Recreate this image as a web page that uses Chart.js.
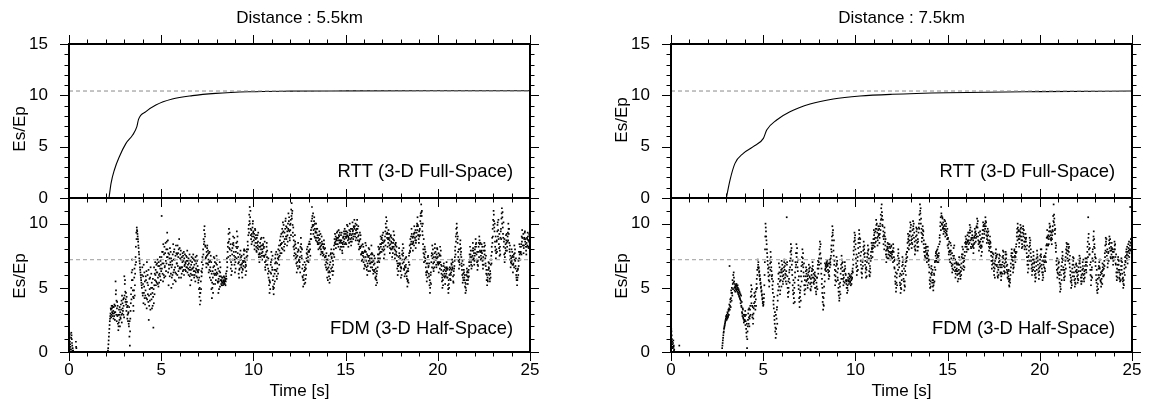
<!DOCTYPE html>
<html>
<head>
<meta charset="utf-8">
<script src="https://cdn.jsdelivr.net/npm/chart.js@4.4.1/dist/chart.umd.min.js"></script>
<style>
  html, body { margin: 0; padding: 0; background: #fff; }
  #wrap { position: relative; width: 1150px; height: 407px; }
  #wrap canvas { position: absolute; left: 0; top: 0; }
</style>
</head>
<body>
<div id="wrap">
  <canvas id="rtt55" width="1150" height="407"></canvas>
  <canvas id="fdm55" width="1150" height="407"></canvas>
  <canvas id="rtt75" width="1150" height="407"></canvas>
  <canvas id="fdm75" width="1150" height="407"></canvas>
</div>
<script>
'use strict';

// labels
const distances = ['Distance : 5.5km', 'Distance : 7.5km'];
const rttLabel = 'RTT (3-D Full-Space)';
const fdmLabel = 'FDM (3-D Half-Space)';
const yTitle = 'Es/Ep';
const xTitle = 'Time [s]';

// tick labels
const timeTicks = [0, 5, 10, 15, 20, 25];
const rttTicks = [0, 5, 10, 15];
const fdmTicks = [0, 5, 10];

// RTT curves (time [s], Es/Ep)
const rttTime55 = [2.17, 2.28, 2.46, 2.73, 3.09, 3.45, 3.68, 3.77, 4.17, 4.71, 5.6, 6.69, 7.95, 9.75, 12, 15, 20, 25];
const rttValue55 = [0, 1.43, 2.73, 4.02, 5.32, 6.13, 6.95, 7.66, 8.41, 9.06, 9.64, 9.97, 10.19, 10.35, 10.41, 10.43, 10.44, 10.45];
const rttTime75 = [3.0, 3.2, 3.47, 3.92, 4.46, 5.01, 5.19, 5.73, 6.45, 7.54, 8.8, 10.25, 12, 15, 20, 25];
const rttValue75 = [0, 1.75, 3.37, 4.35, 5.0, 5.81, 6.62, 7.6, 8.4, 9.15, 9.64, 9.93, 10.1, 10.25, 10.36, 10.42];

// dashed reference levels
const rttLevel55 = 10.42;
const rttLevel75 = 10.42;
const fdmLevel55 = 7.2;
const fdmLevel75 = 7.2;

// FDM samples every fdmStep seconds (one row = 0.5 s);
// the "B" arrays are the in-between samples, starting at t = fdmStep / 2
const fdmStep = 0.025;
const fdm55 = [
  1.6, 1.2, 0.8, 0.4, 0.2, 1.5, 1.0, 0.5, 0.3, 0.1, 0, 0, 0, 0, 0, 0.8, 0.3, 0, 0, 0,
  0, 0, 0, 0, 0, 0, 0, 0, 0, 0, 0, 0, 0, 0, 0, 0, 0, 0, 0, 0,
  0, 0, 0, 0, 0, 0, 0, 0, 0, 0, 0, 0, 0, 0, 0, 0, 0, 0, 0, 0,
  0, 0, 0, 0, 0, 0, 0, 0, 0, 0, 0, 0, 0, 0, 0, 0, 0, 0, 0, 0,
  0, 0, 0, 0, 0, 0.3, 0.9, 1.5, 2.1, 2.6, 3.0, 3.3, 2.9, 3.4, 3.6, 3.0, 3.2, 3.5, 2.8, 3.1,
  3.6, 5.5, 4.8, 4.0, 3.4, 2.8, 2.2, 1.7, 2.3, 2.9, 3.5, 3.1, 2.6, 3.3, 4.0, 4.4, 3.8, 3.2, 2.9, 4.2,
  5.9, 5.3, 4.7, 4.1, 3.7, 4.3, 3.5, 2.9, 2.4, 3.1, 2.0, 1.2, 0.5, 2.6, 3.8, 5.0, 6.2, 7.2, 5.6, 4.3,
  3.2, 4.8, 6.5, 5.2, 6.8, 8.2, 9.3, 9.7, 9.4, 9.0, 8.6, 8.1, 7.6, 7.1, 6.6, 6.2, 5.8, 5.4, 5.0, 6.6,
  4.4, 5.9, 6.8, 5.1, 4.2, 3.7, 4.8, 5.6, 6.3, 7.0, 5.4, 4.5, 3.9, 2.5, 3.6, 4.9, 5.8, 6.6, 5.0, 4.1,
  3.4, 4.6, 5.7, 1.9, 3.8, 5.2, 6.1, 7.0, 6.4, 5.5, 6.2, 6.9, 7.2, 5.8, 5.1, 6.0, 6.7, 7.4, 6.5, 5.6,
  6.3, 10.6, 7.8, 6.1, 5.5, 6.9, 7.6, 8.2, 6.7, 5.9, 7.1, 8.0, 8.6, 9.3, 7.4, 6.2, 5.2, 6.5, 7.3, 8.1,
  7.0, 6.1, 5.0, 5.8, 6.8, 7.6, 8.4, 7.2, 6.4, 5.6, 6.6, 7.5, 8.3, 7.7, 6.9, 6.0, 6.7, 7.4, 8.0, 8.8,
  8.1, 7.3, 6.5, 5.8, 6.6, 7.4, 7.0, 6.3, 7.1, 7.8, 7.3, 6.8, 6.4, 6.9, 7.5, 7.1, 6.6, 6.2, 6.8, 7.3,
  6.9, 6.4, 5.9, 5.2, 6.1, 6.8, 7.4, 7.0, 6.5, 6.0, 6.6, 7.2, 6.8, 6.3, 5.5, 6.2, 6.9, 7.5, 7.1, 6.7,
  6.2, 5.6, 4.9, 4.3, 3.7, 4.6, 5.5, 6.3, 7.0, 6.5, 7.2, 8.0, 8.8, 9.5, 9.8, 9.0, 8.2, 7.4, 6.6, 7.5,
  8.3, 7.6, 6.8, 6.2, 7.0, 7.8, 7.1, 6.3, 5.6, 4.9, 4.2, 5.0, 5.8, 6.6, 7.4, 6.7, 6.0, 5.3, 6.1, 6.9,
  7.5, 6.8, 6.1, 5.4, 4.6, 5.5, 6.3, 7.0, 6.2, 5.6, 5.3, 5.5, 5.8, 5.4, 5.2, 5.6, 5.9, 5.5, 5.3, 5.7,
  5.5, 5.9, 6.3, 7.0, 7.8, 8.5, 9.2, 9.6, 8.8, 8.0, 7.2, 6.5, 6.0, 6.8, 7.6, 8.4, 9.0, 8.3, 7.5, 6.8,
  6.2, 7.0, 7.8, 8.5, 9.4, 8.6, 7.7, 6.9, 6.1, 5.8, 6.5, 7.2, 7.9, 7.4, 6.8, 6.2, 5.8, 6.4, 7.0, 7.6,
  8.0, 7.3, 6.6, 6.0, 6.7, 7.4, 8.0, 7.5, 8.3, 9.1, 9.9, 10.7, 11.3, 10.5, 9.6, 8.8, 8.4, 9.0, 9.7, 10.2,
  9.4, 8.7, 8.3, 8.9, 9.5, 8.8, 8.2, 7.8, 8.5, 9.1, 8.6, 8.0, 7.4, 7.0, 7.6, 8.2, 8.8, 8.3, 7.7, 7.2,
  7.8, 8.4, 8.9, 8.2, 7.5, 7.0, 6.4, 7.1, 7.8, 8.5, 7.9, 7.2, 6.5, 5.8, 5.2, 4.6, 5.4, 6.2, 7.0, 7.8,
  7.2, 6.4, 5.6, 4.9, 4.5, 5.3, 6.1, 6.9, 7.6, 7.0, 6.3, 5.7, 6.5, 7.3, 8.0, 7.4, 6.8, 7.5, 8.3, 9.0,
  8.4, 7.7, 8.5, 9.3, 10.1, 9.4, 8.6, 7.9, 8.8, 9.6, 10.4, 9.8, 9.0, 8.3, 9.1, 10.0, 10.8, 10.2, 9.4, 8.7,
  9.5, 10.3, 11.1, 11.6, 10.8, 9.9, 9.0, 8.2, 7.5, 8.3, 9.1, 8.4, 7.6, 6.9, 6.2, 7.0, 7.8, 8.5, 7.9, 7.2,
  6.6, 7.4, 8.2, 8.9, 8.1, 7.3, 6.5, 5.8, 5.1, 5.6, 6.3, 7.0, 6.4, 5.7, 6.5, 7.3, 8.0, 7.6, 7.1, 7.8,
  8.4, 7.8, 7.2, 8.0, 8.8, 9.5, 10.2, 11.3, 10.6, 9.8, 9.2, 9.9, 10.5, 9.6, 8.9, 9.4, 10.0, 9.3, 8.6, 9.1,
  8.5, 8.0, 8.7, 9.4, 8.8, 8.2, 7.6, 8.3, 9.0, 8.4, 7.8, 7.5, 8.1, 8.7, 8.0, 7.4, 6.8, 7.5, 7.0, 6.4,
  5.8, 6.5, 7.2, 6.6, 5.9, 5.4, 6.2, 7.0, 7.7, 8.0, 7.3, 6.6, 6.0, 6.8, 7.6, 8.3, 8.8, 9.2, 8.6, 8.1,
  8.7, 9.3, 8.9, 8.4, 8.9, 9.5, 9.0, 8.5, 8.0, 8.6, 9.1, 8.7, 8.2, 7.7, 8.4, 9.0, 8.6, 9.2, 9.6, 9.0,
  8.5, 8.9, 9.4, 9.9, 9.3, 8.7, 8.2, 8.8, 9.5, 10.0, 9.4, 8.8, 8.3, 8.9, 9.6, 10.1, 9.5, 9.0, 9.7, 10.3,
  9.8, 9.2, 8.7, 9.3, 9.9, 10.3, 9.6, 9.0, 8.4, 8.0, 8.7, 9.3, 8.8, 8.2, 7.6, 7.1, 7.8, 8.4, 7.7, 7.0,
  6.5, 7.2, 7.9, 8.5, 7.8, 7.1, 6.4, 6.0, 6.7, 7.4, 8.1, 7.5, 6.9, 6.3, 6.9, 7.6, 8.3, 7.7, 7.0, 6.4,
  6.1, 6.8, 7.5, 6.9, 6.2, 5.7, 5.2, 5.6, 6.3, 7.0, 7.6, 8.2, 7.6, 7.0, 7.7, 8.4, 9.0, 8.4, 7.8, 8.5,
  9.1, 8.5, 7.9, 7.3, 8.0, 8.7, 9.4, 10.0, 10.5, 9.7, 8.9, 8.2, 8.8, 9.5, 8.9, 8.3, 7.7, 8.4, 9.1, 8.6,
  8.0, 7.4, 8.1, 8.8, 9.4, 8.7, 8.0, 7.3, 7.9, 8.5, 7.8, 7.1, 6.5, 6.0, 6.7, 7.4, 8.1, 7.5, 6.9, 6.3,
  5.8, 6.5, 7.2, 7.9, 8.4, 7.7, 7.0, 6.4, 5.9, 6.6, 7.3, 6.8, 6.2, 5.7, 5.1, 5.6, 6.3, 7.0, 7.7, 8.3,
  7.8, 8.4, 9.0, 9.6, 9.0, 8.4, 7.9, 8.5, 9.2, 9.8, 9.3, 8.7, 8.1, 8.7, 9.3, 10.0, 10.5, 9.8, 9.1, 8.5,
  9.0, 9.6, 10.2, 10.8, 11.5, 10.6, 9.8, 9.1, 8.4, 7.7, 7.0, 7.6, 8.0, 7.3, 6.6, 6.0, 5.5, 6.2, 6.9, 7.5,
  6.7, 5.9, 5.2, 4.6, 5.4, 6.2, 7.0, 7.7, 8.3, 7.6, 6.9, 6.3, 7.0, 7.7, 8.4, 7.8, 7.2, 6.6, 7.3, 8.0,
  7.4, 6.8, 6.2, 6.9, 7.6, 8.2, 7.5, 6.8, 6.1, 5.5, 5.0, 5.6, 6.3, 6.9, 6.4, 5.8, 5.3, 5.9, 6.5, 7.0,
  6.4, 5.8, 5.2, 4.6, 5.3, 6.0, 6.6, 6.1, 5.6, 6.2, 6.8, 7.2, 6.5, 5.9, 5.4, 6.0, 6.7, 7.4, 8.2, 9.0,
  9.6, 10.0, 9.3, 8.5, 7.8, 7.1, 6.5, 7.2, 8.0, 8.7, 8.1, 7.4, 6.7, 6.0, 5.4, 6.1, 6.8, 6.2, 5.6, 5.1,
  4.6, 5.3, 6.0, 6.5, 5.9, 5.3, 5.8, 6.4, 7.0, 7.6, 8.2, 7.6, 7.0, 6.5, 7.2, 7.9, 8.5, 7.9, 7.3, 6.8,
  7.5, 8.2, 8.8, 8.2, 7.6, 7.0, 6.4, 7.1, 7.8, 8.5, 9.0, 8.4, 7.8, 7.2, 7.8, 8.4, 7.7, 7.1, 6.5, 7.2,
  7.9, 8.5, 7.9, 7.3, 6.7, 6.1, 5.6, 5.2, 5.8, 6.4, 7.0, 6.5, 6.0, 5.5, 6.1, 6.8, 7.5, 8.2, 8.9, 9.6,
  10.3, 11.0, 10.2, 9.4, 8.6, 7.9, 7.3, 8.0, 8.7, 9.4, 10.1, 9.5, 8.8, 8.1, 7.5, 8.2, 8.9, 9.6, 10.4, 11.2,
  10.5, 9.7, 8.9, 8.2, 7.6, 7.0, 7.7, 8.4, 9.1, 8.5, 7.9, 8.6, 9.3, 10.0, 9.2, 8.5, 7.8, 7.2, 6.6, 7.3,
  8.0, 7.4, 6.8, 6.2, 6.9, 7.6, 8.3, 7.7, 7.1, 6.5, 6.0, 5.6, 5.2, 5.8, 6.5, 7.1, 7.8, 8.4, 7.8, 7.2,
  7.8, 8.4, 9.0, 9.5, 8.9, 8.3, 7.7, 8.3, 8.9, 9.4, 8.8, 8.2, 7.6, 8.2, 8.8, 9.3, 8.7, 8.1, 8.6, 9.1,
  8.7
];
const fdm55B = [
  0.9, 1.4, 0.6, 0.2, 1.1, 1.3, 0.7, 0.1, 0, 0, 0, 0, 0, 0, 0, 0.4, 0, 0, 0, 0,
  0, 0, 0, 0, 0, 0, 0, 0, 0, 0, 0, 0, 0, 0, 0, 0, 0, 0, 0, 0,
  0, 0, 0, 0, 0, 0, 0, 0, 0, 0, 0, 0, 0, 0, 0, 0, 0, 0, 0, 0,
  0, 0, 0, 0, 0, 0, 0, 0, 0, 0, 0, 0, 0, 0, 0, 0, 0, 0, 0, 0,
  0, 0, 0, 0, 0.1, 0.6, 1.2, 1.8, 2.4, 2.8, 3.4, 2.7, 3.6, 3.1, 2.8, 3.5, 2.6, 3.0, 3.7, 2.5,
  3.1, 4.5, 2.9, 2.4, 3.9, 3.6, 2.9, 2.0, 3.3, 2.5, 2.0, 2.7, 3.7, 2.9, 2.3, 3.0, 3.4, 4.1, 3.6, 2.7,
  4.4, 5.6, 3.9, 4.6, 3.2, 3.9, 2.6, 3.6, 3.0, 2.2, 3.5, 2.4, 1.6, 3.2, 4.5, 4.1, 5.6, 6.4, 4.8, 3.6,
  4.2, 5.8, 4.4, 6.1, 7.4, 7.0, 8.8, 9.5, 9.2, 8.8, 8.3, 7.8, 7.3, 6.9, 6.4, 6.0, 5.6, 5.2, 6.0, 4.6,
  5.3, 3.8, 4.6, 6.2, 5.5, 4.4, 5.9, 4.2, 3.4, 4.1, 6.0, 5.2, 6.4, 4.4, 5.7, 4.0, 3.3, 4.5, 6.1, 5.4,
  5.0, 3.6, 4.3, 4.9, 6.6, 4.5, 5.6, 6.0, 5.2, 6.8, 5.4, 6.2, 5.3, 6.7, 7.0, 5.4, 6.1, 5.9, 7.1, 6.8,
  7.4, 6.5, 6.9, 7.8, 8.4, 6.0, 5.8, 6.6, 7.7, 8.5, 6.3, 6.9, 7.4, 8.0, 8.7, 7.7, 6.8, 7.6, 5.9, 6.8,
  7.8, 7.3, 6.6, 7.1, 6.0, 5.3, 6.2, 7.8, 8.0, 7.2, 6.2, 5.5, 6.1, 6.9, 7.6, 8.3, 7.7, 6.3, 5.8, 6.5,
  6.6, 7.6, 7.9, 7.2, 6.1, 6.6, 7.7, 7.5, 6.4, 6.0, 6.7, 7.6, 7.0, 6.3, 6.6, 7.4, 7.9, 7.1, 6.5, 6.0,
  7.2, 7.6, 6.6, 7.1, 6.4, 5.6, 6.0, 6.5, 7.3, 7.6, 6.3, 5.8, 6.0, 7.1, 7.4, 6.5, 5.9, 6.4, 5.8, 6.3,
  5.4, 6.4, 5.8, 5.0, 4.6, 4.0, 4.9, 5.9, 6.2, 7.4, 6.8, 7.6, 8.4, 8.6, 9.2, 8.3, 7.3, 6.9, 7.8, 8.1,
  6.9, 7.9, 7.2, 7.7, 6.4, 5.8, 6.6, 7.5, 7.0, 6.1, 5.4, 6.3, 4.6, 5.3, 6.1, 7.3, 7.0, 6.4, 5.6, 6.0,
  6.2, 7.2, 5.5, 6.5, 5.7, 4.9, 5.9, 5.1, 6.6, 5.9, 5.6, 5.2, 5.4, 5.8, 5.5, 5.3, 5.4, 5.8, 5.6, 5.2,
  6.1, 5.7, 7.3, 6.6, 8.2, 7.4, 8.6, 8.1, 9.3, 7.5, 8.4, 7.0, 7.9, 6.3, 8.1, 7.2, 8.5, 7.8, 8.9, 7.2,
  7.4, 6.5, 8.2, 7.3, 8.1, 9.0, 8.2, 7.4, 7.0, 6.4, 7.6, 6.8, 7.2, 6.6, 7.5, 6.9, 6.5, 7.1, 6.7, 7.9,
  7.1, 7.9, 7.0, 6.8, 6.3, 7.8, 7.2, 8.6, 8.0, 9.6, 9.3, 10.2, 10.0, 11.0, 9.1, 9.5, 9.2, 8.6, 10.0, 9.3,
  9.0, 9.2, 8.0, 9.6, 8.5, 9.1, 7.9, 8.9, 8.1, 8.3, 9.3, 7.6, 8.2, 7.7, 8.5, 7.4, 8.0, 8.9, 7.5, 8.0,
  8.3, 7.5, 8.1, 7.4, 8.6, 6.6, 7.6, 6.8, 8.2, 7.4, 6.8, 6.1, 7.3, 6.3, 5.6, 5.5, 4.9, 6.8, 6.1, 7.2,
  6.6, 7.5, 5.1, 5.9, 5.0, 6.4, 5.5, 7.3, 6.4, 7.8, 5.9, 6.9, 7.6, 6.1, 7.2, 8.3, 7.9, 8.7, 7.7, 8.4,
  9.2, 8.1, 9.6, 8.0, 9.0, 9.9, 8.2, 9.3, 8.4, 10.2, 9.0, 8.8, 9.7, 9.4, 8.6, 9.6, 9.5, 10.5, 8.9, 9.9,
  10.0, 9.1, 10.6, 10.4, 11.0, 9.3, 9.7, 8.7, 8.0, 7.7, 8.6, 7.3, 8.1, 7.4, 6.7, 7.5, 6.5, 8.0, 7.1, 6.7,
  7.0, 6.2, 7.8, 8.4, 7.5, 8.0, 5.9, 6.8, 5.6, 6.0, 5.3, 6.6, 5.4, 6.8, 6.0, 7.7, 7.1, 8.2, 7.4, 7.0,
  7.9, 8.6, 8.4, 7.5, 9.2, 8.8, 9.7, 10.4, 9.9, 10.8, 9.5, 10.2, 9.0, 10.0, 9.3, 8.7, 9.6, 8.9, 9.6, 8.4,
  8.9, 8.4, 9.1, 8.1, 8.5, 9.2, 8.0, 7.8, 8.6, 7.7, 8.4, 8.2, 7.6, 8.4, 7.2, 8.1, 7.4, 6.6, 7.7, 7.2,
  6.9, 5.6, 6.2, 7.5, 6.3, 6.8, 5.7, 7.6, 6.5, 7.4, 6.3, 7.7, 7.1, 6.3, 8.0, 7.4, 8.5, 8.4, 9.0, 8.8,
  8.4, 8.9, 9.4, 8.7, 8.2, 9.1, 8.7, 9.3, 8.7, 8.2, 8.5, 9.3, 7.9, 8.5, 8.9, 8.2, 9.4, 8.8, 8.4, 9.4,
  9.2, 8.4, 9.0, 9.1, 9.8, 9.0, 8.9, 8.5, 9.1, 9.2, 8.6, 9.6, 9.1, 8.6, 9.2, 9.4, 8.8, 9.8, 9.2, 9.6,
  9.0, 10.0, 9.5, 8.9, 9.6, 9.3, 8.7, 9.8, 9.1, 8.6, 8.2, 8.1, 9.1, 7.6, 8.3, 7.7, 7.2, 7.5, 8.2, 7.4,
  7.8, 6.8, 6.7, 7.4, 8.3, 6.6, 7.6, 6.9, 7.5, 6.3, 7.1, 8.0, 7.3, 7.2, 6.6, 7.0, 7.3, 6.6, 7.6, 7.2,
  7.1, 6.3, 6.4, 7.3, 5.8, 6.5, 5.9, 6.1, 5.4, 6.6, 7.3, 7.1, 8.0, 8.1, 7.3, 7.8, 8.2, 8.8, 8.9, 8.0,
  8.7, 9.3, 8.2, 8.6, 7.6, 9.0, 8.3, 9.7, 9.2, 10.2, 9.3, 9.2, 8.5, 8.8, 9.2, 8.7, 8.1, 9.0, 8.0, 8.9,
  8.5, 8.2, 7.7, 8.5, 8.2, 9.1, 7.6, 8.4, 8.3, 7.6, 8.2, 7.5, 6.9, 6.7, 6.3, 6.9, 7.7, 6.8, 7.3, 6.6,
  6.6, 6.0, 7.6, 6.9, 7.5, 8.1, 6.5, 7.2, 6.7, 6.1, 6.6, 7.4, 5.9, 6.3, 5.5, 6.5, 5.4, 7.5, 6.8, 7.9,
  8.8, 8.1, 8.6, 9.2, 8.4, 8.9, 8.6, 9.0, 8.3, 9.3, 8.9, 9.5, 8.5, 9.0, 9.8, 9.5, 9.9, 9.1, 8.8, 9.4,
  9.5, 9.1, 10.6, 10.0, 10.9, 11.0, 9.4, 10.0, 8.0, 8.8, 7.4, 8.2, 7.1, 7.8, 6.2, 6.9, 6.3, 5.8, 7.4, 6.6,
  6.1, 6.9, 5.6, 5.0, 6.0, 5.3, 7.5, 6.6, 7.3, 8.0, 6.5, 7.4, 6.6, 8.1, 7.2, 7.4, 6.8, 7.6, 8.1, 7.0,
  6.9, 7.7, 7.0, 7.5, 6.5, 7.0, 7.9, 6.4, 6.7, 5.8, 6.0, 5.2, 6.7, 5.9, 6.1, 6.6, 5.9, 6.3, 6.1, 6.6,
  5.8, 6.5, 4.9, 5.6, 5.0, 6.4, 5.7, 6.5, 6.0, 6.9, 6.4, 6.6, 7.0, 5.5, 6.3, 6.5, 7.1, 7.9, 7.6, 8.6,
  9.2, 9.7, 8.8, 9.0, 7.4, 8.0, 7.0, 6.8, 8.4, 7.6, 7.8, 6.9, 6.4, 7.1, 5.8, 5.6, 6.4, 5.8, 6.0, 5.4,
  5.0, 4.8, 5.6, 6.2, 6.3, 5.6, 6.2, 5.9, 6.7, 7.2, 7.4, 7.9, 6.8, 7.4, 6.7, 7.5, 8.1, 7.2, 7.7, 7.1,
  8.0, 7.7, 8.4, 8.5, 7.2, 7.8, 6.8, 6.7, 8.2, 7.4, 8.7, 7.9, 8.5, 7.5, 7.3, 7.9, 8.2, 6.8, 7.4, 6.8,
  8.2, 7.6, 8.3, 6.9, 7.5, 6.4, 6.0, 5.6, 5.5, 6.1, 6.6, 6.9, 5.7, 6.3, 5.8, 7.2, 6.9, 7.8, 8.5, 9.0,
  9.9, 10.7, 9.7, 10.0, 8.2, 9.0, 7.7, 8.6, 7.8, 9.9, 9.0, 10.3, 8.4, 9.2, 7.9, 7.6, 9.4, 8.8, 10.8, 10.0,
  10.9, 9.2, 10.1, 8.6, 8.8, 7.4, 8.1, 7.9, 8.7, 9.2, 8.2, 9.0, 8.7, 9.6, 9.6, 8.0, 8.3, 7.5, 7.0, 6.9,
  7.1, 7.8, 7.5, 6.8, 7.4, 6.6, 7.2, 8.0, 6.7, 7.3, 5.8, 6.3, 5.6, 6.4, 6.0, 6.7, 7.3, 7.6, 8.2, 7.7,
  8.2, 7.6, 8.6, 8.9, 8.3, 9.2, 8.1, 8.8, 9.3, 8.6, 8.4, 7.9, 8.5, 8.9, 8.3, 9.0, 8.2, 8.7, 9.2, 8.5
];
const fdm75 = [
  2.0, 1.6, 1.0, 0.6, 0.3, 0.9, 0.5, 0.2, 0, 0, 0, 0, 0, 0, 0, 0, 0, 0, 0.5, 0,
  0, 0, 0, 0, 0, 0, 0, 0, 0, 0, 0, 0, 0, 0, 0, 0, 0, 0, 0, 0,
  0, 0, 0, 0, 0, 0, 0, 0, 0, 0, 0, 0, 0, 0, 0, 0, 0, 0, 0, 0,
  0, 0, 0, 0, 0, 0, 0, 0, 0, 0, 0, 0, 0, 0, 0, 0, 0, 0, 0, 0,
  0, 0, 0, 0, 0, 0, 0, 0, 0, 0, 0, 0, 0, 0, 0, 0, 0, 0, 0, 0,
  0, 0, 0, 0, 0, 0, 0, 0, 0, 0, 0, 0.3, 0.7, 1.1, 1.5, 1.8, 2.0, 2.2, 2.4, 2.6,
  2.7, 2.9, 2.6, 3.0, 2.8, 3.2, 3.4, 6.7, 3.6, 3.9, 4.2, 4.6, 5.0, 4.4, 5.3, 6.0, 6.2, 5.5, 4.8, 5.1,
  5.2, 4.9, 5.3, 5.1, 4.7, 5.0, 4.5, 4.8, 4.3, 4.6, 4.1, 3.8, 4.4, 3.5, 3.1, 2.8, 3.3, 2.6, 2.3, 2.9,
  2.5, 3.2, 2.4, 1.8, 1.2, 0.3, 1.6, 2.5, 3.3, 2.7, 2.0, 2.8, 3.6, 4.3, 5.2, 4.4, 3.6, 2.9, 2.2, 3.0,
  3.8, 4.6, 3.9, 3.3, 4.1, 4.9, 5.7, 6.4, 7.2, 6.8, 6.5, 6.2, 5.9, 5.6, 5.3, 5.0, 4.7, 4.4, 4.1, 3.8,
  3.6, 3.9, 4.5, 6.0, 8.0, 10.0, 9.4, 8.7, 8.0, 7.4, 6.8, 6.2, 5.6, 5.1, 6.0, 6.9, 7.8, 7.0, 6.3, 5.7,
  5.2, 4.6, 4.0, 3.4, 2.8, 2.2, 1.6, 1.1, 1.8, 2.6, 3.5, 4.4, 5.3, 6.1, 6.9, 6.2, 5.5, 4.8, 5.6, 6.4,
  7.1, 6.5, 5.9, 5.3, 6.0, 6.6, 7.2, 6.7, 6.1, 5.5, 6.3, 10.5, 7.0, 5.0, 4.3, 5.0, 5.7, 6.4, 7.1, 7.8,
  8.4, 7.6, 6.8, 6.0, 5.2, 4.5, 3.8, 4.6, 5.4, 6.2, 7.0, 7.7, 8.4, 7.7, 7.0, 6.3, 5.6, 4.9, 4.2, 3.5,
  4.3, 5.1, 5.9, 6.7, 7.4, 8.0, 7.3, 6.6, 5.9, 5.2, 4.5, 5.2, 5.9, 6.6, 6.1, 5.6, 5.2, 5.7, 6.2, 6.8,
  6.3, 5.8, 5.3, 4.8, 5.4, 6.0, 6.5, 7.0, 6.4, 5.8, 5.3, 5.7, 6.2, 5.6, 5.0, 4.5, 5.1, 5.8, 6.5, 7.1,
  6.5, 7.3, 8.0, 8.6, 7.7, 6.9, 6.1, 5.3, 4.6, 3.9, 3.3, 4.2, 5.1, 6.0, 6.9, 6.5, 6.8, 6.6, 6.9, 7.1,
  6.7, 6.2, 5.7, 6.3, 6.9, 7.2, 6.8, 7.5, 8.3, 9.0, 9.8, 9.1, 8.3, 7.5, 6.8, 6.0, 5.2, 5.9, 6.7, 7.4,
  6.8, 6.2, 5.6, 5.0, 4.4, 4.0, 4.7, 5.4, 6.1, 6.8, 7.5, 6.9, 6.3, 5.7, 5.2, 5.8, 6.4, 7.0, 6.5, 6.0,
  5.5, 5.0, 4.6, 5.2, 5.8, 5.6, 5.3, 5.7, 6.0, 5.5, 5.2, 5.6, 6.1, 5.8, 6.5, 7.2, 7.9, 8.6, 9.3, 8.7,
  8.0, 7.3, 6.6, 6.0, 6.7, 7.4, 8.1, 8.8, 9.5, 8.9, 8.2, 7.5, 6.8, 6.2, 5.8, 6.5, 7.2, 7.9, 8.6, 8.0,
  7.4, 6.8, 6.2, 5.8, 6.4, 7.0, 7.7, 8.3, 7.6, 6.9, 6.3, 5.9, 6.5, 7.1, 7.8, 8.5, 8.0, 7.4, 8.1, 8.8,
  9.5, 8.8, 8.2, 8.9, 9.6, 10.3, 9.6, 8.9, 8.3, 9.0, 9.8, 9.1, 8.5, 9.2, 10.0, 10.7, 11.2, 11.5, 10.6, 9.8,
  9.0, 8.4, 9.1, 9.7, 9.0, 8.3, 7.6, 7.0, 7.6, 8.2, 8.5, 7.9, 7.3, 7.8, 8.4, 7.8, 7.2, 7.7, 8.3, 7.8,
  7.3, 7.9, 8.4, 7.8, 7.1, 6.5, 5.9, 5.3, 4.7, 5.4, 6.1, 6.8, 7.5, 8.0, 7.3, 6.6, 5.9, 5.2, 4.6, 5.3,
  6.0, 6.7, 7.4, 6.8, 6.1, 5.5, 4.8, 5.5, 6.3, 7.0, 7.6, 7.1, 7.8, 8.5, 9.2, 8.6, 8.0, 8.7, 9.4, 10.1,
  9.4, 8.7, 8.1, 8.8, 9.5, 10.2, 9.6, 8.9, 8.2, 7.6, 8.3, 9.0, 9.7, 9.1, 8.5, 7.9, 8.6, 9.3, 10.0, 10.7,
  11.5, 10.8, 10.0, 9.3, 8.6, 9.2, 9.8, 9.1, 8.4, 7.8, 7.2, 7.8, 8.4, 7.9, 7.3, 7.0, 7.6, 8.2, 7.5, 6.8,
  6.2, 5.6, 5.0, 5.5, 6.1, 6.7, 6.2, 5.6, 5.1, 4.8, 5.4, 6.0, 6.6, 7.1, 7.5, 7.8, 7.3, 7.6, 8.0, 7.4,
  7.0, 7.7, 8.4, 9.1, 9.8, 10.5, 11.3, 10.6, 9.9, 10.4, 9.7, 9.2, 9.8, 10.3, 9.6, 9.0, 9.5, 10.0, 9.4, 8.8,
  8.3, 8.9, 8.4, 7.8, 7.2, 7.8, 8.5, 7.9, 7.3, 6.7, 6.2, 6.8, 7.5, 8.1, 7.5, 6.9, 6.3, 5.8, 6.4, 7.0,
  6.5, 6.0, 5.5, 6.1, 6.8, 7.4, 6.8, 6.2, 5.7, 6.3, 6.9, 7.6, 8.2, 7.6, 7.0, 6.4, 7.1, 7.8, 8.5, 9.0,
  8.4, 7.8, 8.5, 9.1, 8.6, 8.0, 8.7, 9.3, 9.9, 9.3, 8.7, 8.1, 8.8, 9.4, 8.9, 8.3, 7.7, 8.4, 9.0, 9.6,
  9.1, 8.6, 9.2, 9.8, 10.4, 9.7, 9.0, 8.4, 7.9, 8.5, 9.1, 8.6, 8.1, 7.5, 8.2, 8.9, 9.5, 10.1, 9.5, 8.9,
  9.4, 10.0, 10.5, 9.8, 9.1, 8.5, 9.0, 9.6, 9.1, 8.5, 7.9, 8.4, 9.0, 8.5, 7.8, 7.1, 6.5, 7.1, 7.7, 7.2,
  6.6, 6.0, 6.5, 7.1, 7.7, 8.0, 7.4, 6.8, 6.2, 5.8, 6.4, 7.0, 7.6, 7.1, 6.6, 6.1, 5.6, 6.2, 6.8, 7.4,
  7.9, 7.3, 6.7, 6.1, 6.6, 7.2, 7.8, 7.3, 6.7, 6.2, 5.8, 6.3, 5.9, 5.5, 5.1, 5.7, 6.3, 6.9, 7.5, 8.0,
  7.4, 6.8, 6.2, 6.8, 7.4, 8.0, 7.5, 7.0, 7.7, 8.4, 9.0, 9.6, 10.0, 9.4, 8.8, 8.2, 8.8, 9.4, 9.9, 9.3,
  8.7, 8.1, 8.7, 9.3, 9.8, 9.2, 8.6, 8.0, 8.6, 9.2, 8.6, 8.0, 7.4, 6.8, 6.2, 6.8, 7.5, 8.2, 8.9, 8.3,
  7.7, 7.1, 6.5, 6.0, 6.6, 7.2, 7.8, 7.2, 6.6, 6.0, 5.5, 6.1, 6.7, 7.3, 7.9, 7.4, 6.8, 6.2, 5.7, 6.3,
  6.9, 7.5, 8.0, 7.4, 6.8, 6.2, 5.6, 6.2, 6.8, 7.4, 7.0, 6.5, 7.1, 7.7, 8.3, 8.9, 9.5, 8.9, 8.3, 8.8,
  9.4, 10.0, 9.4, 8.8, 9.4, 8.9, 8.4, 9.1, 9.8, 10.6, 11.5, 10.7, 9.9, 9.2, 8.5, 7.8, 7.1, 6.4, 5.8, 6.5,
  7.2, 6.6, 6.0, 5.4, 4.7, 5.3, 6.0, 6.7, 7.3, 7.8, 7.2, 6.6, 6.1, 5.6, 6.2, 6.8, 7.4, 8.0, 8.5, 7.9,
  7.3, 7.9, 8.4, 7.8, 7.2, 6.6, 6.0, 5.5, 5.0, 5.6, 6.2, 6.8, 7.4, 6.8, 6.2, 5.6, 5.1, 5.7, 6.3, 6.9,
  6.4, 5.9, 5.4, 6.0, 6.6, 7.2, 7.5, 6.9, 6.3, 5.8, 5.3, 5.8, 6.4, 7.0, 6.5, 6.0, 5.5, 6.1, 6.7, 7.3,
  6.8, 6.2, 7.0, 7.8, 8.6, 10.5, 9.2, 8.4, 7.6, 6.8, 6.0, 5.2, 5.9, 6.6, 7.3, 8.0, 8.7, 9.4, 8.8, 8.1,
  7.4, 6.7, 6.0, 5.4, 4.8, 4.6, 5.3, 6.0, 6.7, 7.0, 6.5, 6.0, 5.5, 5.1, 5.7, 6.3, 6.9, 6.4, 5.9, 6.5,
  7.1, 7.7, 8.3, 8.9, 8.4, 7.8, 7.2, 6.6, 7.2, 7.8, 8.4, 9.0, 8.5, 7.9, 7.3, 7.9, 8.5, 8.0, 7.4, 6.8,
  7.4, 8.0, 8.6, 8.0, 7.4, 6.8, 6.2, 5.6, 6.2, 6.8, 7.4, 6.8, 6.2, 5.7, 5.5, 6.1, 6.7, 7.3, 6.7, 6.1,
  5.5, 5.0, 5.6, 6.2, 6.8, 7.4, 7.0, 7.5, 8.0, 7.6, 7.2, 7.8, 8.4, 7.9, 7.4, 8.0, 11.3, 8.5, 8.0, 8.6,
  8.2
];
const fdm75B = [
  1.8, 1.3, 0.8, 0.4, 0.7, 0.4, 0.1, 0, 0, 0, 0, 0, 0, 0, 0, 0, 0, 0, 0, 0,
  0, 0, 0, 0, 0, 0, 0, 0, 0, 0, 0, 0, 0, 0, 0, 0, 0, 0, 0, 0,
  0, 0, 0, 0, 0, 0, 0, 0, 0, 0, 0, 0, 0, 0, 0, 0, 0, 0, 0, 0,
  0, 0, 0, 0, 0, 0, 0, 0, 0, 0, 0, 0, 0, 0, 0, 0, 0, 0, 0, 0,
  0, 0, 0, 0, 0, 0, 0, 0, 0, 0, 0, 0, 0, 0, 0, 0, 0, 0, 0, 0,
  0, 0, 0, 0, 0, 0, 0, 0, 0, 0, 0, 0.5, 0.9, 1.3, 1.6, 1.9, 2.1, 2.3, 2.5, 2.8,
  2.5, 2.8, 3.1, 2.7, 3.3, 2.9, 3.7, 3.3, 4.1, 3.5, 4.8, 4.0, 4.6, 5.6, 4.9, 5.4, 5.8, 5.0, 5.3, 4.7,
  5.0, 5.2, 4.8, 4.9, 5.2, 4.6, 4.9, 4.4, 4.7, 4.2, 4.5, 4.0, 3.6, 3.9, 3.0, 3.4, 2.7, 2.9, 2.5, 2.4,
  2.8, 2.1, 2.9, 1.5, 2.2, 1.0, 2.0, 3.0, 2.2, 3.4, 2.6, 3.3, 2.9, 4.7, 3.8, 4.9, 2.7, 3.5, 2.6, 3.4,
  4.3, 3.6, 4.4, 4.7, 3.6, 5.3, 5.0, 6.0, 6.6, 7.0, 6.6, 6.3, 6.0, 5.7, 5.4, 5.1, 4.8, 4.5, 4.2, 3.9,
  3.7, 4.2, 5.2, 7.0, 9.0, 9.7, 9.0, 8.4, 7.7, 7.1, 6.5, 5.9, 6.6, 5.5, 7.2, 6.4, 7.4, 6.6, 5.9, 6.0,
  4.9, 5.5, 3.7, 4.3, 2.5, 3.1, 1.9, 2.9, 1.4, 3.3, 2.2, 4.0, 4.8, 5.7, 5.1, 6.6, 4.5, 5.9, 6.2, 5.1,
  6.2, 6.8, 5.5, 6.3, 5.7, 7.0, 6.4, 5.8, 6.9, 6.0, 5.3, 6.8, 5.9, 4.6, 5.5, 4.7, 6.2, 5.4, 6.6, 7.3,
  7.9, 8.1, 6.4, 7.1, 4.8, 5.6, 4.2, 5.0, 3.9, 5.8, 6.6, 6.8, 7.4, 8.1, 6.6, 7.2, 5.2, 5.9, 3.9, 4.6,
  4.8, 4.0, 6.3, 5.5, 7.0, 6.8, 7.7, 6.2, 6.9, 4.8, 5.6, 4.9, 6.3, 5.5, 6.4, 5.9, 5.0, 6.0, 5.4, 6.5,
  5.9, 6.6, 4.9, 5.7, 5.1, 6.3, 5.8, 6.7, 5.4, 6.1, 5.5, 6.0, 5.0, 5.9, 4.7, 5.4, 5.8, 4.9, 6.8, 6.1,
  7.0, 6.8, 7.6, 8.2, 8.4, 7.3, 6.5, 5.7, 5.0, 4.3, 3.7, 3.6, 4.6, 5.5, 6.4, 6.7, 6.3, 7.0, 6.7, 6.8,
  6.4, 6.9, 6.0, 5.9, 6.6, 7.0, 7.3, 8.0, 7.8, 8.7, 9.3, 9.5, 7.9, 8.7, 7.1, 6.4, 5.6, 6.3, 5.5, 6.9,
  7.1, 5.8, 6.5, 4.7, 5.3, 4.2, 5.1, 4.5, 6.5, 5.7, 7.2, 6.6, 7.0, 6.0, 5.5, 6.3, 5.4, 6.7, 6.1, 5.6,
  5.3, 5.6, 5.0, 4.8, 5.5, 6.1, 5.5, 5.9, 5.4, 5.8, 5.9, 5.3, 5.7, 6.3, 6.2, 6.8, 7.6, 8.2, 8.9, 9.1,
  8.4, 6.9, 7.6, 6.3, 7.1, 6.4, 8.5, 7.7, 9.2, 8.5, 8.8, 7.1, 7.8, 6.5, 6.1, 7.0, 6.7, 8.2, 7.6, 8.3,
  7.7, 7.1, 6.5, 6.6, 5.9, 7.4, 7.2, 7.9, 8.0, 7.3, 6.0, 6.7, 6.2, 7.5, 7.3, 8.1, 8.3, 7.8, 8.5, 8.3,
  9.1, 9.3, 8.5, 9.4, 8.6, 9.9, 10.0, 9.3, 8.7, 9.5, 9.2, 9.6, 8.9, 9.8, 9.5, 10.3, 10.4, 10.9, 9.9, 10.3,
  9.4, 8.8, 8.0, 9.3, 8.6, 8.8, 7.9, 7.4, 8.0, 7.3, 8.1, 8.4, 7.6, 8.2, 7.5, 8.1, 7.5, 8.2, 7.4, 7.6,
  7.8, 7.0, 8.1, 7.4, 6.6, 7.2, 5.5, 6.2, 5.0, 5.8, 5.2, 7.2, 6.4, 7.7, 6.9, 7.1, 5.4, 6.1, 5.0, 4.9,
  5.6, 6.3, 7.0, 7.2, 5.7, 6.5, 5.2, 5.1, 6.7, 6.0, 7.3, 7.8, 7.4, 8.1, 8.8, 9.0, 8.3, 9.1, 8.4, 9.7,
  9.9, 9.0, 8.5, 8.4, 9.1, 9.8, 10.0, 9.3, 8.6, 8.0, 7.9, 8.7, 9.4, 9.6, 8.2, 8.8, 8.2, 9.7, 9.6, 10.3,
  11.0, 11.2, 10.4, 9.6, 8.9, 8.9, 9.5, 9.4, 8.7, 8.1, 7.5, 7.4, 8.1, 8.2, 7.6, 7.7, 7.3, 7.9, 7.1, 7.2,
  6.6, 5.3, 5.8, 5.1, 6.5, 6.0, 5.4, 6.4, 5.6, 5.2, 6.1, 5.5, 7.0, 6.4, 7.7, 7.1, 7.9, 7.0, 7.5, 8.2,
  7.5, 7.2, 8.9, 8.6, 10.1, 9.5, 10.8, 10.0, 10.5, 9.6, 10.1, 9.6, 9.4, 9.9, 10.2, 9.3, 9.8, 9.2, 9.1, 9.6,
  8.8, 8.1, 7.6, 8.6, 7.9, 7.0, 7.6, 8.3, 6.9, 7.7, 6.5, 7.2, 6.4, 7.3, 8.3, 6.6, 7.2, 6.1, 6.9, 6.3,
  6.8, 6.3, 6.9, 5.7, 6.4, 6.1, 7.2, 5.9, 6.6, 6.0, 7.4, 6.5, 7.3, 8.0, 6.7, 7.3, 6.6, 7.5, 8.2, 8.6,
  8.8, 8.2, 8.0, 8.7, 9.3, 8.4, 9.0, 8.5, 9.5, 9.7, 8.2, 8.9, 8.4, 9.1, 8.2, 8.7, 8.1, 8.9, 8.5, 9.3,
  9.4, 8.9, 9.7, 9.0, 10.0, 10.2, 8.7, 9.3, 8.6, 8.2, 9.4, 8.3, 8.8, 8.3, 7.8, 9.2, 8.6, 9.8, 9.9, 9.2,
  9.8, 9.6, 10.2, 10.1, 9.4, 8.8, 9.3, 8.7, 9.4, 8.2, 8.7, 8.1, 8.6, 8.2, 7.5, 7.8, 6.8, 7.4, 6.9, 7.6,
  6.3, 6.9, 5.8, 6.8, 7.3, 7.5, 6.7, 7.6, 5.9, 6.6, 6.0, 7.3, 6.8, 7.5, 6.2, 6.8, 5.9, 6.6, 6.1, 7.0,
  7.5, 7.8, 6.3, 6.9, 6.2, 7.6, 7.0, 7.6, 6.4, 6.8, 6.1, 5.7, 6.4, 5.2, 5.6, 5.4, 6.0, 6.6, 7.7, 7.2,
  7.7, 7.1, 6.5, 6.6, 7.9, 7.2, 7.8, 7.4, 8.2, 7.8, 9.3, 8.7, 9.7, 9.0, 9.5, 8.5, 9.1, 9.0, 9.6, 9.7,
  9.0, 8.4, 8.2, 9.6, 9.0, 9.5, 8.3, 8.9, 8.2, 8.8, 8.9, 7.7, 8.3, 7.1, 7.4, 6.5, 7.9, 7.1, 8.5, 8.7,
  8.0, 7.4, 6.8, 6.3, 6.9, 6.4, 7.5, 6.9, 7.0, 6.3, 5.8, 5.8, 7.0, 6.4, 7.6, 7.1, 7.2, 6.5, 6.0, 6.6,
  7.2, 6.7, 7.6, 8.0, 6.5, 7.1, 6.0, 5.8, 7.1, 6.6, 7.5, 6.3, 7.4, 7.0, 8.0, 8.4, 9.0, 8.3, 9.1, 8.4,
  9.0, 9.7, 9.8, 9.1, 8.7, 9.3, 8.8, 9.5, 9.4, 10.2, 10.1, 10.4, 9.5, 9.6, 8.1, 8.3, 6.8, 7.3, 6.2, 6.1,
  6.9, 7.0, 5.7, 6.2, 5.1, 4.9, 6.4, 5.6, 7.0, 7.5, 6.4, 7.2, 5.8, 6.4, 5.9, 7.1, 6.5, 7.7, 8.2, 8.4,
  7.6, 7.1, 8.1, 8.2, 6.9, 7.5, 6.3, 5.8, 5.4, 5.2, 6.5, 5.9, 7.1, 7.3, 5.9, 6.6, 5.4, 5.3, 6.8, 6.2,
  6.7, 6.2, 5.7, 5.6, 6.3, 6.9, 7.1, 7.3, 6.6, 5.5, 6.0, 5.5, 6.1, 6.7, 7.2, 5.7, 6.3, 5.8, 6.4, 7.0,
  6.4, 7.3, 6.7, 8.2, 7.4, 8.9, 8.0, 7.6, 8.1, 6.4, 7.0, 5.6, 6.4, 5.8, 7.8, 7.1, 9.0, 8.2, 8.4, 7.6,
  7.0, 7.3, 5.6, 6.4, 5.1, 5.7, 4.9, 6.5, 5.8, 6.6, 7.2, 5.6, 6.2, 5.4, 6.1, 5.3, 6.6, 5.9, 6.8, 6.0,
  6.7, 7.4, 7.9, 8.6, 8.8, 7.5, 8.0, 6.9, 7.7, 7.1, 8.7, 8.1, 8.8, 7.4, 8.2, 7.6, 8.1, 7.3, 7.8, 7.1,
  7.8, 7.2, 8.3, 8.4, 6.9, 7.6, 5.9, 6.5, 5.8, 7.2, 6.4, 7.1, 5.8, 6.4, 6.0, 5.6, 7.1, 6.4, 7.0, 5.7,
  5.8, 5.3, 5.2, 6.5, 6.0, 7.1, 6.6, 7.8, 7.3, 8.2, 6.9, 7.5, 8.1, 8.6, 7.7, 8.3, 7.9, 8.8, 8.3, 8.9
];

const FONT = '"Liberation Sans", Arial, Helvetica, sans-serif';
Chart.defaults.font.family = FONT;
Chart.defaults.font.size = 17;
Chart.defaults.color = '#000';

const toXY = (xs, ys) => xs.map((x, i) => ({x: x, y: ys[i]}));
const toSamples = (values, t0) => values.map((v, i) => ({x: +(t0 + i * fdmStep).toFixed(4), y: v}));
const levelLine = level => [{x: timeTicks[0], y: level}, {x: timeTicks[timeTicks.length - 1], y: level}];

// GMT style frame: thick border, outward ticks on all four sides
const gmtFrame = {
    id: 'gmtFrame',
    afterDatasetsDraw(chart) {
        const {ctx, chartArea: a, scales: {x, y}} = chart;
        ctx.save();
        ctx.strokeStyle = '#000';
        ctx.lineWidth = 1;
        ctx.beginPath();
        for (let v = x.min; v <= x.max + 1e-6; v += 1) {
            const len = v % 5 === 0 ? 9 : 4.5;
            const px = Math.round(x.getPixelForValue(v)) + 0.5;
            ctx.moveTo(px, a.bottom); ctx.lineTo(px, a.bottom + len);
            ctx.moveTo(px, a.top); ctx.lineTo(px, a.top - len);
        }
        for (let v = y.min; v <= y.max + 1e-6; v += 1) {
            const len = v % 5 === 0 ? 9 : 4.5;
            const py = Math.round(y.getPixelForValue(v)) + 0.5;
            ctx.moveTo(a.left, py); ctx.lineTo(a.left - len, py);
            ctx.moveTo(a.right, py); ctx.lineTo(a.right + len, py);
        }
        ctx.stroke();
        ctx.lineWidth = 2;
        ctx.strokeRect(a.left, a.top, a.right - a.left, a.bottom - a.top);
        ctx.restore();
    }
};

// free text placed relative to the chart area
const panelText = {
    id: 'panelText',
    afterDraw(chart, args, opts) {
        const {ctx, chartArea: a} = chart;
        const anchorX = {left: a.left, center: (a.left + a.right) / 2, right: a.right};
        const anchorY = {top: a.top, middle: (a.top + a.bottom) / 2, bottom: a.bottom};
        ctx.save();
        ctx.fillStyle = '#000';
        (opts.items || []).forEach(item => {
            ctx.save();
            ctx.font = (item.size || 17) + 'px ' + FONT;
            ctx.translate(anchorX[item.ax] + item.dx, anchorY[item.ay] + item.dy);
            if (item.rotate) ctx.rotate(item.rotate);
            ctx.textAlign = item.align || 'center';
            ctx.textBaseline = item.baseline || 'middle';
            ctx.fillText(item.text, 0, 0);
            ctx.restore();
        });
        ctx.restore();
    }
};

const Y_AXIS_W = 60;
const X_AXIS_H = 45;

const makePanel = function (id, box, yMax, yTicks, showX, datasets, items) {
    const xh = showX ? X_AXIS_H : 0;
    return new Chart(document.getElementById(id), {
        data: {datasets: datasets},
        options: {
            responsive: false,
            animation: false,
            events: [],
            layout: {
                padding: {
                    left: box.left - Y_AXIS_W,
                    right: 1150 - box.right,
                    top: box.top,
                    bottom: 407 - box.bottom - xh
                }
            },
            scales: {
                x: {
                    type: 'linear', min: 0, max: 25,
                    afterBuildTicks: s => { s.ticks = timeTicks.map(v => ({value: v})); },
                    afterFit: s => { s.height = xh; s.paddingLeft = 0; s.paddingRight = 0; },
                    grid: {display: false},
                    border: {display: false},
                    ticks: {display: showX, padding: 0, maxRotation: 0, autoSkip: false}
                },
                y: {
                    type: 'linear', min: 0, max: yMax,
                    afterBuildTicks: s => { s.ticks = yTicks.map(v => ({value: v})); },
                    afterFit: s => { s.width = Y_AXIS_W; s.paddingTop = 0; s.paddingBottom = 0; },
                    grid: {display: false},
                    border: {display: false},
                    ticks: {padding: 13, autoSkip: false}
                }
            },
            plugins: {
                legend: {display: false},
                tooltip: {enabled: false},
                panelText: {items: items}
            }
        },
        plugins: [gmtFrame, panelText]
    });
};

const dots = data => ({type: 'scatter', data: data, backgroundColor: '#000', borderWidth: 0, pointStyle: 'rect', pointRadius: 1.2});

const rttSets = (times, values, level) => [
    {type: 'line', data: levelLine(level), borderColor: '#8a8a8a', borderWidth: 1, borderDash: [4, 3], pointRadius: 0},
    {type: 'line', data: toXY(times, values), borderColor: '#000', borderWidth: 1.1, pointRadius: 0, cubicInterpolationMode: 'monotone'}
];
const fdmSets = (values, valuesB, level) => [
    {type: 'line', data: levelLine(level), borderColor: '#b0b0b0', borderWidth: 1.2, borderDash: [4, 3], pointRadius: 0},
    dots(toSamples(values, 0)),
    dots(toSamples(valuesB, fdmStep / 2))
];

const topItems = (title, titleDy) => [
    {text: title, ax: 'center', dx: 0, ay: 'top', dy: -26},
    {text: yTitle, ax: 'left', dx: -49, ay: 'middle', dy: titleDy, rotate: -Math.PI / 2},
    {text: rttLabel, ax: 'right', dx: -17, ay: 'bottom', dy: -21.5, align: 'right', baseline: 'alphabetic', size: 18.4}
];
const bottomItems = [
    {text: yTitle, ax: 'left', dx: -49, ay: 'middle', dy: 1, rotate: -Math.PI / 2},
    {text: fdmLabel, ax: 'right', dx: -17, ay: 'bottom', dy: -18.5, align: 'right', baseline: 'alphabetic', size: 18.4},
    {text: xTitle, ax: 'center', dx: 0, ay: 'bottom', dy: 39}
];

const left = {left: 69, right: 530};
const right = {left: 671, right: 1132};
const topRow = {top: 44, bottom: 198};
const bottomRow = {top: 198, bottom: 352};

makePanel('rtt55', Object.assign({}, left, topRow), 15, rttTicks, false,
    rttSets(rttTime55, rttValue55, rttLevel55), topItems(distances[0], 8));
makePanel('fdm55', Object.assign({}, left, bottomRow), 12, fdmTicks, true,
    fdmSets(fdm55, fdm55B, fdmLevel55), bottomItems);
makePanel('rtt75', Object.assign({}, right, topRow), 15, rttTicks, false,
    rttSets(rttTime75, rttValue75, rttLevel75), topItems(distances[1], -1));
makePanel('fdm75', Object.assign({}, right, bottomRow), 12, fdmTicks, true,
    fdmSets(fdm75, fdm75B, fdmLevel75), bottomItems);
</script>
</body>
</html>
